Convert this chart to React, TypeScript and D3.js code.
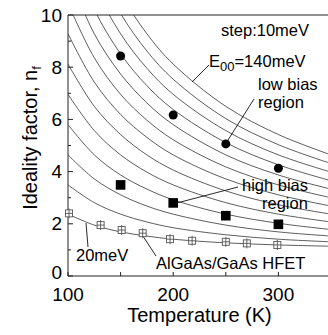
import { useRef, useEffect } from "react";
import * as d3 from "d3";

const temps = [100, 125, 150, 175, 200, 250, 300, 350];
const e00List = [20, 30, 40, 50, 60, 70, 80, 90, 100, 110, 120, 130, 140];

// ideality factor read for each E00 curve (meV)
const n20 = [2.37, 1.95, 1.69, 1.53, 1.41, 1.27, 1.19, 1.14];
const n30 = [3.49, 2.81, 2.37, 2.07, 1.85, 1.58, 1.41, 1.31];
const n40 = [4.64, 3.72, 3.11, 2.68, 2.37, 1.95, 1.69, 1.53];
const n50 = [5.8, 4.64, 3.87, 3.33, 2.92, 2.37, 2.02, 1.78];
const n60 = [6.96, 5.57, 4.64, 3.98, 3.49, 2.81, 2.37, 2.07];
const n70 = [8.12, 6.5, 5.42, 4.64, 4.06, 3.26, 2.73, 2.37];
const n80 = [9.28, 7.43, 6.19, 5.31, 4.64, 3.72, 3.11, 2.68];
const n90 = [10.44, 8.36, 6.96, 5.97, 5.22, 4.18, 3.49, 3.0];
const n100 = [11.6, 9.28, 7.74, 6.63, 5.8, 4.64, 3.87, 3.33];
const n110 = [12.77, 10.21, 8.51, 7.29, 6.38, 5.11, 4.26, 3.65];
const n120 = [13.93, 11.14, 9.28, 7.96, 6.96, 5.57, 4.64, 3.98];
const n130 = [15.09, 12.07, 10.06, 8.62, 7.54, 6.03, 5.03, 4.31];
const n140 = [16.25, 13.0, 10.83, 9.28, 8.12, 6.5, 5.42, 4.64];
const curveValues = [n20, n30, n40, n50, n60, n70, n80, n90, n100, n110, n120, n130, n140];

// measured points
const biasT = [150, 200, 250, 300];
const lowBiasN = [8.43, 6.17, 5.06, 4.13];
const highBiasN = [3.49, 2.8, 2.31, 1.98];

const hfetT = [101, 131, 151, 171, 197, 218, 250, 270, 299];
const hfetN = [2.4, 1.95, 1.76, 1.64, 1.41, 1.35, 1.31, 1.25, 1.19];

const xTicks = [100, 150, 200, 250, 300, 350];
const xLabels = [100, 200, 300];
const yTicks = [0, 1, 2, 3, 4, 5, 6, 7, 8, 9, 10];
const yLabels = [0, 2, 4, 6, 8, 10];

const FONT = "'Liberation Sans', Arial, Helvetica, sans-serif";

export default function App() {
  const svgRef = useRef<SVGSVGElement>(null);

  useEffect(() => {
    const svg = d3.select(svgRef.current);
    svg.selectAll("*").remove();

    const width = 328;
    const height = 335;
    const margin = { top: 15, right: -3, bottom: 59, left: 68 };

    const x = d3.scaleLinear()
      .domain([100, 350])
      .range([margin.left, width - margin.right]);
    const y = d3.scaleLinear()
      .domain([0, 10])
      .range([height - margin.bottom, margin.top]);

    svg.append("rect")
      .attr("width", width)
      .attr("height", height)
      .attr("fill", "#fff");

    svg.append("defs")
      .append("clipPath")
      .attr("id", "plot-clip")
      .append("rect")
      .attr("x", x(100))
      .attr("y", y(10))
      .attr("width", x(350) - x(100))
      .attr("height", y(0) - y(10));

    // E00 curves
    const line = d3.line<number>()
      .x((_, i) => x(temps[i]))
      .y(d => y(d))
      .curve(d3.curveCatmullRom);

    svg.append("g")
      .attr("clip-path", "url(#plot-clip)")
      .selectAll("path")
      .data(curveValues)
      .join("path")
      .attr("d", d => line(d))
      .attr("fill", "none")
      .attr("stroke", "#333")
      .attr("stroke-width", 0.8);

    // frame
    const frame = svg.append("g")
      .attr("stroke", "#222")
      .attr("stroke-width", 1)
      .attr("fill", "none");
    frame.append("path")
      .attr("d", `M${x(350)},${y(10)}H${x(100)}V${y(0)}H${x(350)}`);

    // ticks, pointing inward
    frame.selectAll("line.xt")
      .data(xTicks)
      .join("line")
      .attr("x1", d => x(d))
      .attr("x2", d => x(d))
      .attr("y1", y(0))
      .attr("y2", y(0) - 4);
    frame.selectAll("line.yt")
      .data(yTicks)
      .join("line")
      .attr("x1", x(100))
      .attr("x2", d => x(100) + (d % 2 === 0 ? 5 : 3))
      .attr("y1", d => y(d))
      .attr("y2", d => y(d));

    // tick labels
    svg.append("g")
      .selectAll("text")
      .data(xLabels)
      .join("text")
      .attr("x", d => x(d))
      .attr("y", 300.5)
      .attr("text-anchor", "middle")
      .style("font-family", FONT)
      .style("font-size", "19px")
      .text(d => d);
    svg.append("g")
      .selectAll("text")
      .data(yLabels)
      .join("text")
      .attr("x", 62)
      .attr("y", d => y(d) + (d === 0 ? 3 : 6.5))
      .attr("text-anchor", "end")
      .style("font-family", FONT)
      .style("font-size", "19px")
      .text(d => d);

    // axis titles
    svg.append("text")
      .attr("x", (x(100) + x(350)) / 2)
      .attr("y", 322)
      .attr("text-anchor", "middle")
      .style("font-family", FONT)
      .style("font-size", "20px")
      .text("Temperature (K)");
    const yTitle = svg.append("text")
      .attr("transform", "translate(37,138) rotate(-90)")
      .attr("text-anchor", "middle")
      .style("font-family", FONT)
      .style("font-size", "20px");
    yTitle.append("tspan").text("Ideality factor, n");
    yTitle.append("tspan").attr("dy", 4).style("font-size", "13px").text("f");

    // HFET data: open squares with error bars
    const hfet = svg.append("g")
      .attr("stroke", "#555")
      .attr("stroke-width", 0.9)
      .attr("fill", "#fff");
    hfet.selectAll("g")
      .data(hfetT)
      .join("g")
      .attr("transform", (d, i) => `translate(${x(d)},${y(hfetN[i])})`)
      .each(function () {
        const g = d3.select(this);
        g.append("rect").attr("x", -3.5).attr("y", -3.5).attr("width", 7).attr("height", 7);
        g.append("line").attr("x1", 0).attr("x2", 0).attr("y1", -5).attr("y2", 5);
        g.append("line").attr("x1", -3.5).attr("x2", 3.5).attr("y1", 0).attr("y2", 0);
      });

    // low bias: filled circles
    svg.append("g")
      .selectAll("circle")
      .data(biasT)
      .join("circle")
      .attr("cx", d => x(d))
      .attr("cy", (_, i) => y(lowBiasN[i]))
      .attr("r", 4.5)
      .attr("fill", "#000");

    // high bias: filled squares
    svg.append("g")
      .selectAll("rect")
      .data(biasT)
      .join("rect")
      .attr("x", d => x(d) - 4.8)
      .attr("y", (_, i) => y(highBiasN[i]) - 4.8)
      .attr("width", 9.6)
      .attr("height", 9.6)
      .attr("fill", "#000");

    // leader lines
    const leaders = [
      [209, 65, 192, 82],
      [254, 99, x(250) + 1, y(lowBiasN[2]) - 2],
      [238, 187, x(200) + 4, y(highBiasN[1])],
      [86, 223, 88, 247],
      [x(171) + 1, y(hfetN[3]) + 4, 156, 256],
    ];
    svg.append("g")
      .selectAll("line")
      .data(leaders)
      .join("line")
      .attr("x1", d => d[0])
      .attr("y1", d => d[1])
      .attr("x2", d => d[2])
      .attr("y2", d => d[3])
      .attr("stroke", "#111")
      .attr("stroke-width", 0.9);

    // annotations
    const note = (tx: number, ty: number, s: string) =>
      svg.append("text")
        .attr("x", tx)
        .attr("y", ty)
        .style("font-family", FONT)
        .style("font-size", "16.5px")
        .text(s);

    note(221, 36, "step:10meV");
    const e = svg.append("text")
      .attr("x", 209)
      .attr("y", 67)
      .style("font-family", FONT)
      .style("font-size", "16.5px");
    e.append("tspan").text("E");
    e.append("tspan").attr("dy", 4).style("font-size", "13px").text("00");
    e.append("tspan").attr("dy", -4).text("=140meV");
    note(258, 90, "low bias");
    note(258, 108, "region");
    note(242, 191, "high bias");
    note(262, 209, "region");
    note(76, 261, "20meV");
    note(156, 269, "AlGaAs/GaAs HFET");
  }, []);

  return (
    <svg
      ref={svgRef}
      width={328}
      height={335}
      style={{ position: "absolute", left: 0, top: 0, display: "block" }}
    />
  );
}
